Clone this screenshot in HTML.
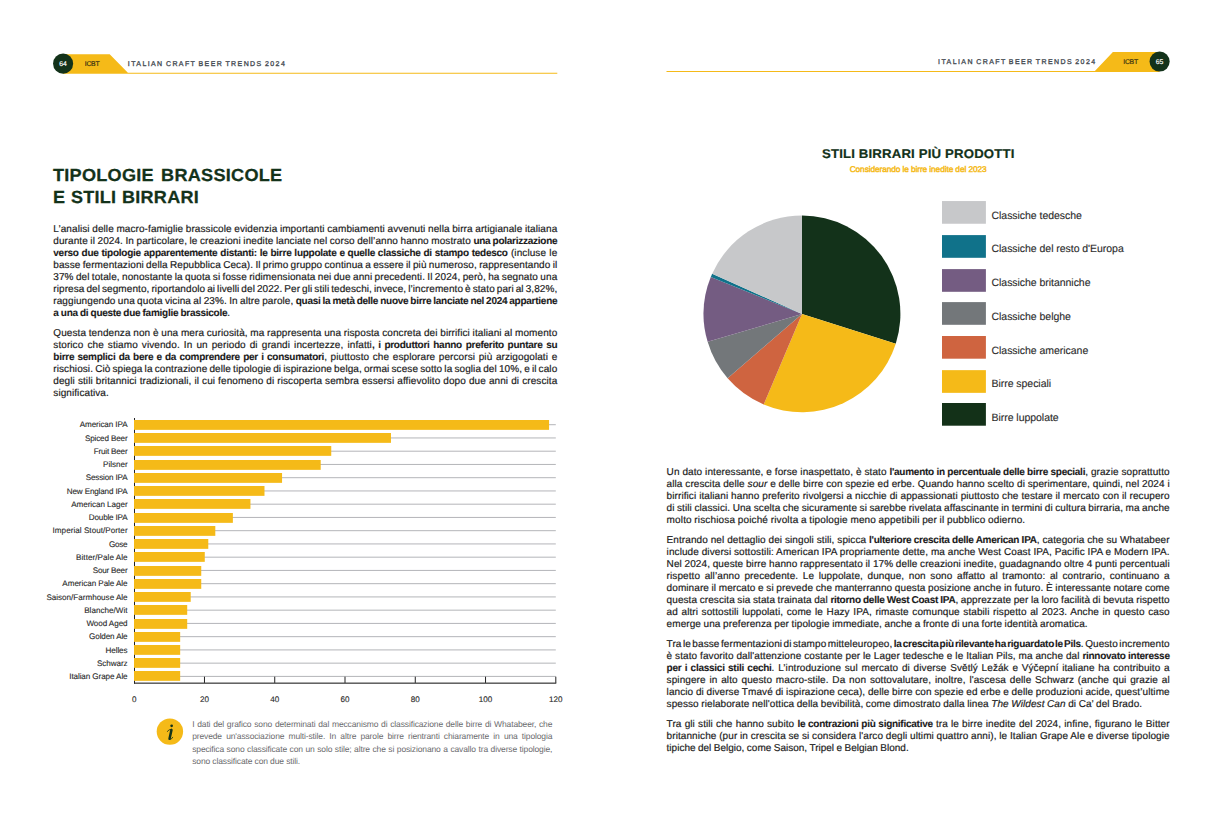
<!DOCTYPE html>
<html><head><meta charset="utf-8"><title>ICBT 2024</title>
<style>
html,body{margin:0;padding:0;background:#fff;}
body{width:1223px;height:827px;position:relative;overflow:hidden;font-family:"Liberation Sans",sans-serif;color:#1b1b1b;text-rendering:geometricPrecision;}
div{position:absolute;white-space:nowrap;}
span.t{display:inline-block;white-space:nowrap;transform-origin:0 50%;}
.l{font-size:10px;line-height:12px;height:12px;letter-spacing:calc(0.085px + var(--d,0px));-webkit-text-stroke:0.18px #1b1b1b;}
.l b{letter-spacing:calc(-0.26px + var(--d,0px));-webkit-text-stroke:0.1px #1b1b1b;}
.f{font-size:8.5px;line-height:12px;height:12px;color:#6b6b6e;letter-spacing:calc(-0.135px + var(--d,0px));}
.bl{font-size:8.1px;line-height:10px;height:10px;color:#2b2b2b;-webkit-text-stroke:0.12px #2b2b2b;}
.xl{width:30px;text-align:center;font-size:8.1px;line-height:10px;color:#2b2b2b;-webkit-text-stroke:0.12px #2b2b2b;}
.lg{left:991.5px;font-size:10.5px;line-height:12px;color:#2b2b2b;letter-spacing:-0.04px;-webkit-text-stroke:0.12px #2b2b2b;}
.sw{left:942px;width:43.8px;height:22.9px;}
.hd{font-size:7px;color:#474d54;line-height:8px;-webkit-text-stroke:0.32px #474d54;word-spacing:-1px;}
.ic{font-size:6.8px;letter-spacing:-0.25px;color:#3a3212;line-height:8px;-webkit-text-stroke:0.2px #3a3212;}
.pn{font-size:6.8px;color:#fff;line-height:8px;width:20px;text-align:center;-webkit-text-stroke:0.15px #fff;}
.h1{left:53.4px;font-weight:bold;font-size:17.5px;line-height:20px;color:#13321a;-webkit-text-stroke:0.25px #13321a;}
svg{position:absolute;left:0;top:0;}
</style></head><body>

<svg width="1223" height="827" viewBox="0 0 1223 827">
<path d="M63,54.2 L109.7,54.2 L127.9,72.8 L557.3,72.8 L557.3,73.8 L63,73.8 Z" fill="#f5ba18"/>
<circle cx="63.1" cy="63.65" r="10.05" fill="#13321a"/>
<path d="M1159.5,52.1 L1112.9,52.1 L1094.9,70.9 L666.5,70.9 L666.5,71.9 L1159.5,71.9 Z" fill="#f5ba18"/>
<circle cx="1159.6" cy="61.55" r="10.05" fill="#13321a"/>
<rect x="134.0" y="418" width="1" height="265.6" fill="#222"/>
<rect x="135.0" y="424.20" width="420.80" height="1" fill="#b4b5b9"/>
<rect x="135.0" y="437.45" width="420.80" height="1" fill="#b4b5b9"/>
<rect x="135.0" y="450.69" width="420.80" height="1" fill="#b4b5b9"/>
<rect x="135.0" y="463.94" width="420.80" height="1" fill="#b4b5b9"/>
<rect x="135.0" y="477.19" width="420.80" height="1" fill="#b4b5b9"/>
<rect x="135.0" y="490.44" width="420.80" height="1" fill="#b4b5b9"/>
<rect x="135.0" y="503.68" width="420.80" height="1" fill="#b4b5b9"/>
<rect x="135.0" y="516.93" width="420.80" height="1" fill="#b4b5b9"/>
<rect x="135.0" y="530.18" width="420.80" height="1" fill="#b4b5b9"/>
<rect x="135.0" y="543.43" width="420.80" height="1" fill="#b4b5b9"/>
<rect x="135.0" y="556.67" width="420.80" height="1" fill="#b4b5b9"/>
<rect x="135.0" y="569.92" width="420.80" height="1" fill="#b4b5b9"/>
<rect x="135.0" y="583.17" width="420.80" height="1" fill="#b4b5b9"/>
<rect x="135.0" y="596.42" width="420.80" height="1" fill="#b4b5b9"/>
<rect x="135.0" y="609.66" width="420.80" height="1" fill="#b4b5b9"/>
<rect x="135.0" y="622.91" width="420.80" height="1" fill="#b4b5b9"/>
<rect x="135.0" y="636.16" width="420.80" height="1" fill="#b4b5b9"/>
<rect x="135.0" y="649.41" width="420.80" height="1" fill="#b4b5b9"/>
<rect x="135.0" y="662.65" width="420.80" height="1" fill="#b4b5b9"/>
<rect x="135.0" y="675.90" width="420.80" height="1" fill="#b4b5b9"/>
<rect x="134.0" y="420" width="415.07" height="9.85" fill="#f5ba18"/>
<rect x="134.0" y="433" width="256.97" height="9.85" fill="#f5ba18"/>
<rect x="134.0" y="446" width="197.25" height="9.85" fill="#f5ba18"/>
<rect x="134.0" y="460" width="186.71" height="9.85" fill="#f5ba18"/>
<rect x="134.0" y="473" width="148.06" height="9.85" fill="#f5ba18"/>
<rect x="134.0" y="486" width="130.49" height="9.85" fill="#f5ba18"/>
<rect x="134.0" y="499" width="116.44" height="9.85" fill="#f5ba18"/>
<rect x="134.0" y="513" width="98.87" height="9.85" fill="#f5ba18"/>
<rect x="134.0" y="526" width="81.31" height="9.85" fill="#f5ba18"/>
<rect x="134.0" y="539" width="74.28" height="9.85" fill="#f5ba18"/>
<rect x="134.0" y="552" width="70.77" height="9.85" fill="#f5ba18"/>
<rect x="134.0" y="566" width="67.25" height="9.85" fill="#f5ba18"/>
<rect x="134.0" y="579" width="67.25" height="9.85" fill="#f5ba18"/>
<rect x="134.0" y="592" width="56.71" height="9.85" fill="#f5ba18"/>
<rect x="134.0" y="605" width="53.20" height="9.85" fill="#f5ba18"/>
<rect x="134.0" y="619" width="53.20" height="9.85" fill="#f5ba18"/>
<rect x="134.0" y="632" width="46.17" height="9.85" fill="#f5ba18"/>
<rect x="134.0" y="645" width="46.17" height="9.85" fill="#f5ba18"/>
<rect x="134.0" y="658" width="46.17" height="9.85" fill="#f5ba18"/>
<rect x="134.0" y="671" width="46.17" height="9.85" fill="#f5ba18"/>
<rect x="134.0" y="682.6" width="422.30" height="1.1" fill="#222"/>
<rect x="203.97" y="676.7" width="1" height="6.2" fill="#222"/>
<rect x="274.23" y="676.7" width="1" height="6.2" fill="#222"/>
<rect x="344.50" y="676.7" width="1" height="6.2" fill="#222"/>
<rect x="414.77" y="676.7" width="1" height="6.2" fill="#222"/>
<rect x="485.03" y="676.7" width="1" height="6.2" fill="#222"/>
<rect x="555.30" y="676.7" width="1" height="6.2" fill="#222"/>
<path d="M802.0,313.9 L802.00,215.50 A98.4,98.4 0 0 1 895.77,343.74 Z" fill="#13321a"/>
<path d="M802.0,313.9 L895.77,343.74 A98.4,98.4 0 0 1 763.71,404.54 Z" fill="#f5ba18"/>
<path d="M802.0,313.9 L763.71,404.54 A98.4,98.4 0 0 1 727.62,378.33 Z" fill="#cf6440"/>
<path d="M802.0,313.9 L727.62,378.33 A98.4,98.4 0 0 1 707.65,341.85 Z" fill="#73777a"/>
<path d="M802.0,313.9 L707.65,341.85 A98.4,98.4 0 0 1 710.77,277.04 Z" fill="#745c82"/>
<path d="M802.0,313.9 L710.77,277.04 A98.4,98.4 0 0 1 712.18,273.72 Z" fill="#10728a"/>
<path d="M802.0,313.9 L712.18,273.72 A98.4,98.4 0 0 1 802.00,215.50 Z" fill="#c7c8ca"/>
<rect x="942" y="201.05" width="43.9" height="22.7" fill="#c7c8ca"/>
<rect x="942" y="235.1" width="43.9" height="22.7" fill="#10728a"/>
<rect x="942" y="269.1" width="43.9" height="22.7" fill="#745c82"/>
<rect x="942" y="302.1" width="43.9" height="22.7" fill="#73777a"/>
<rect x="942" y="336.0" width="43.9" height="22.7" fill="#cf6440"/>
<rect x="942" y="370.15" width="43.9" height="22.7" fill="#f5ba18"/>
<rect x="942" y="403.0" width="43.9" height="22.7" fill="#133118"/>
<circle cx="169.9" cy="731.6" r="13.2" fill="#f5ba18"/>
<g fill="none" stroke="#13321a" stroke-linecap="round"><circle cx="171.65" cy="725.8" r="1.35" fill="#13321a" stroke="none"/><path d="M171.45,729.9 L169.55,738.7" stroke-width="2.5"/><path d="M167.2,731.5 Q168.8,729.3 171.3,729.2" stroke-width="0.8"/><path d="M169.3,739.5 Q171.6,739.9 172.8,737.3" stroke-width="0.8"/></g>
</svg>
<div class="pn" style="left:53.1px;top:61px;">64</div>
<div class="ic" style="left:84.8px;top:61px;">ICBT</div>
<div class="hd" style="left:127.8px;top:61px;letter-spacing:1.407px;"><span class="t" id="hdl">ITALIAN CRAFT BEER TRENDS 2024</span></div>
<div class="pn" style="left:1149.6px;top:59px;">65</div>
<div class="ic" style="left:1123.3px;top:59px;">ICBT</div>
<div class="hd" style="left:938.1px;top:59px;letter-spacing:1.407px;"><span class="t" id="hdr">ITALIAN CRAFT BEER TRENDS 2024</span></div>
<div class="h1" style="top:165px;letter-spacing:0.25px;word-spacing:1.8px;"><span class="t" id="h1a" style="transform:scaleX(1.0348);">TIPOLOGIE BRASSICOLE</span></div>
<div class="h1" style="top:187px;letter-spacing:0.25px;word-spacing:0.4px;"><span class="t" id="h1b" style="transform:scaleX(1.0308);">E STILI BIRRARI</span></div>
<div class="ptt" style="left:821.9px;top:147px;font-weight:bold;font-size:12.6px;line-height:14px;color:#13321a;letter-spacing:0.15px;-webkit-text-stroke:0.2px #13321a;"><span class="t" id="pt" style="transform:scaleX(1.0478);">STILI BIRRARI PIÙ PRODOTTI</span></div>
<div class="pst" style="left:849.7px;top:164px;font-size:8.3px;line-height:10px;color:#f5ba18;-webkit-text-stroke:0.45px #f5ba18;letter-spacing:-0.090px;"><span class="t" id="ps">Considerando le birre inedite del 2023</span></div>
<div class="l" style="left:53.3px;top:224px;--d:0.000px;word-spacing:-0.253px;"><span class="t" id="p0">L’analisi delle macro-famiglie brassicole evidenzia importanti cambiamenti avvenuti nella birra artigianale italiana</span></div>
<div class="l" style="left:53.3px;top:236px;--d:0.000px;word-spacing:-0.329px;"><span class="t" id="p1">durante il 2024. In particolare, le creazioni inedite lanciate nel corso dell’anno hanno mostrato <b>una polarizzazione</b></span></div>
<div class="l" style="left:53.3px;top:248px;--d:0.000px;word-spacing:0.404px;"><span class="t" id="p2"><b>verso due tipologie apparentemente distanti: le birre luppolate e quelle classiche di stampo tedesco</b> (incluse le</span></div>
<div class="l" style="left:53.3px;top:260px;--d:0.000px;word-spacing:-0.573px;"><span class="t" id="p3">basse fermentazioni della Repubblica Ceca). Il primo gruppo continua a essere il più numeroso, rappresentando il</span></div>
<div class="l" style="left:53.3px;top:272px;--d:0.000px;word-spacing:-0.521px;"><span class="t" id="p4">37% del totale, nonostante la quota si fosse ridimensionata nei due anni precedenti. Il 2024, però, ha segnato una</span></div>
<div class="l" style="left:53.3px;top:284px;--d:0.000px;word-spacing:-0.899px;"><span class="t" id="p5">ripresa del segmento, riportandolo ai livelli del 2022. Per gli stili tedeschi, invece, l’incremento è stato pari al 3,82%,</span></div>
<div class="l" style="left:53.3px;top:296px;--d:0.000px;word-spacing:-0.515px;"><span class="t" id="p6">raggiungendo una quota vicina al 23%. In altre parole, <b>quasi la metà delle nuove birre lanciate nel 2024 appartiene</b></span></div>
<div class="l" style="left:53.3px;top:308px;--d:-0.006px;word-spacing:-0.310px;"><span class="t" id="p7"><b>a una di queste due famiglie brassicole</b>.</span></div>
<div class="l" style="left:53.3px;top:328px;--d:0.000px;word-spacing:-0.154px;"><span class="t" id="p8">Questa tendenza non è una mera curiosità, ma rappresenta una risposta concreta dei birrifici italiani al momento</span></div>
<div class="l" style="left:53.3px;top:340px;--d:0.000px;word-spacing:1.188px;"><span class="t" id="p9">storico che stiamo vivendo. In un periodo di grandi incertezze, infatti<b>, i produttori hanno preferito puntare su</b></span></div>
<div class="l" style="left:53.3px;top:352px;--d:0.000px;word-spacing:0.742px;"><span class="t" id="p10"><b>birre semplici da bere e da comprendere per i consumatori</b>, piuttosto che esplorare percorsi più arzigogolati e</span></div>
<div class="l" style="left:53.3px;top:364px;--d:0.000px;word-spacing:-0.755px;"><span class="t" id="p11">rischiosi. Ciò spiega la contrazione delle tipologie di ispirazione belga, ormai scese sotto la soglia del 10%, e il calo</span></div>
<div class="l" style="left:53.3px;top:376px;--d:0.000px;word-spacing:0.169px;"><span class="t" id="p12">degli stili britannici tradizionali, il cui fenomeno di riscoperta sembra essersi affievolito dopo due anni di crescita</span></div>
<div class="l" style="left:53.3px;top:388px;--d:-0.006px;word-spacing:-0.310px;"><span class="t" id="p13">significativa.</span></div>
<div class="l" style="left:666.6px;top:467px;--d:0.000px;word-spacing:0.001px;"><span class="t" id="p14">Un dato interessante, e forse inaspettato, è stato <b>l'aumento in percentuale delle birre speciali</b>, grazie soprattutto</span></div>
<div class="l" style="left:666.6px;top:479px;--d:0.000px;word-spacing:-0.071px;"><span class="t" id="p15">alla crescita delle <i>sour</i> e delle birre con spezie ed erbe. Quando hanno scelto di sperimentare, quindi, nel 2024 i</span></div>
<div class="l" style="left:666.6px;top:491px;--d:0.000px;word-spacing:0.061px;"><span class="t" id="p16">birrifici italiani hanno preferito rivolgersi a nicchie di appassionati piuttosto che testare il mercato con il recupero</span></div>
<div class="l" style="left:666.6px;top:503px;--d:0.000px;word-spacing:-0.382px;"><span class="t" id="p17">di stili classici. Una scelta che sicuramente si sarebbe rivelata affascinante in termini di cultura birraria, ma anche</span></div>
<div class="l" style="left:666.6px;top:515px;--d:0.058px;word-spacing:-0.310px;"><span class="t" id="p18">molto rischiosa poiché rivolta a tipologie meno appetibili per il pubblico odierno.</span></div>
<div class="l" style="left:666.6px;top:535px;--d:0.000px;word-spacing:-0.028px;"><span class="t" id="p19">Entrando nel dettaglio dei singoli stili, spicca <b>l'ulteriore crescita delle American IPA</b>, categoria che su Whatabeer</span></div>
<div class="l" style="left:666.6px;top:547px;--d:0.000px;word-spacing:-0.040px;"><span class="t" id="p20">include diversi sottostili: American IPA propriamente dette, ma anche West Coast IPA, Pacific IPA e Modern IPA.</span></div>
<div class="l" style="left:666.6px;top:559px;--d:0.000px;word-spacing:-0.155px;"><span class="t" id="p21">Nel 2024, queste birre hanno rappresentato il 17% delle creazioni inedite, guadagnando oltre 4 punti percentuali</span></div>
<div class="l" style="left:666.6px;top:571px;--d:0.000px;word-spacing:1.737px;"><span class="t" id="p22">rispetto all’anno precedente. Le luppolate, dunque, non sono affatto al tramonto: al contrario, continuano a</span></div>
<div class="l" style="left:666.6px;top:583px;--d:0.000px;word-spacing:-0.265px;"><span class="t" id="p23">dominare il mercato e si prevede che manterranno questa posizione anche in futuro. È interessante notare come</span></div>
<div class="l" style="left:666.6px;top:595px;--d:0.000px;word-spacing:-0.309px;"><span class="t" id="p24">questa crescita sia stata trainata dal <b>ritorno delle West Coast IPA</b>, apprezzate per la loro facilità di bevuta rispetto</span></div>
<div class="l" style="left:666.6px;top:607px;--d:0.000px;word-spacing:0.729px;"><span class="t" id="p25">ad altri sottostili luppolati, come le Hazy IPA, rimaste comunque stabili rispetto al 2023. Anche in questo caso</span></div>
<div class="l" style="left:666.6px;top:619px;--d:0.002px;word-spacing:-0.310px;"><span class="t" id="p26">emerge una preferenza per tipologie immediate, anche a fronte di una forte identità aromatica.</span></div>
<div class="l" style="left:666.6px;top:639px;--d:0.000px;word-spacing:-1.393px;"><span class="t" id="p27">Tra le basse fermentazioni di stampo mitteleuropeo, <b>la crescita più rilevante ha riguardato le Pils</b>. Questo incremento</span></div>
<div class="l" style="left:666.6px;top:651px;--d:0.000px;word-spacing:-0.006px;"><span class="t" id="p28">è stato favorito dall'attenzione costante per le Lager tedesche e le Italian Pils, ma anche dal <b>rinnovato interesse</b></span></div>
<div class="l" style="left:666.6px;top:663px;--d:0.000px;word-spacing:0.842px;"><span class="t" id="p29"><b>per i classici stili cechi</b>. L’introduzione sul mercato di diverse Světlý Ležák e Výčepní italiane ha contribuito a</span></div>
<div class="l" style="left:666.6px;top:675px;--d:0.000px;word-spacing:0.952px;"><span class="t" id="p30">spingere in alto questo macro-stile. Da non sottovalutare, inoltre, l'ascesa delle Schwarz (anche qui grazie al</span></div>
<div class="l" style="left:666.6px;top:687px;--d:0.000px;word-spacing:-0.202px;"><span class="t" id="p31">lancio di diverse Tmavé di ispirazione ceca), delle birre con spezie ed erbe e delle produzioni acide, quest’ultime</span></div>
<div class="l" style="left:666.6px;top:699px;--d:-0.008px;word-spacing:-0.310px;"><span class="t" id="p32">spesso rielaborate nell'ottica della bevibilità, come dimostrato dalla linea <i>The Wildest Can</i> di Ca’ del Brado.</span></div>
<div class="l" style="left:666.6px;top:719px;--d:0.000px;word-spacing:0.297px;"><span class="t" id="p33">Tra gli stili che hanno subito <b>le contrazioni più significative</b> tra le birre inedite del 2024, infine, figurano le Bitter</span></div>
<div class="l" style="left:666.6px;top:731px;--d:0.000px;word-spacing:-0.145px;"><span class="t" id="p34">britanniche (pur in crescita se si considera l'arco degli ultimi quattro anni), le Italian Grape Ale e diverse tipologie</span></div>
<div class="l" style="left:666.6px;top:743px;--d:-0.085px;word-spacing:-0.310px;"><span class="t" id="p35">tipiche del Belgio, come Saison, Tripel e Belgian Blond.</span></div>
<div class="f" style="left:192.2px;top:718px;--d:0.000px;word-spacing:0.555px;"><span class="t" id="f0">I dati del grafico sono determinati dal meccanismo di classificazione delle birre di Whatabeer, che</span></div>
<div class="f" style="left:192.2px;top:730px;--d:0.000px;word-spacing:1.964px;"><span class="t" id="f1">prevede un'associazione multi-stile. In altre parole birre rientranti chiaramente in una tipologia</span></div>
<div class="f" style="left:192.2px;top:743px;--d:0.000px;word-spacing:0.342px;"><span class="t" id="f2">specifica sono classificate con un solo stile; altre che si posizionano a cavallo tra diverse tipologie,</span></div>
<div class="f" style="left:192.2px;top:755px;--d:0.005px;word-spacing:0.000px;"><span class="t" id="f3">sono classificate con due stili.</span></div>
<div class="bl" style="left:79.77px;top:420px;letter-spacing:-0.096px;"><span class="t" id="b0">American IPA</span></div>
<div class="bl" style="left:84.92px;top:434px;letter-spacing:-0.141px;"><span class="t" id="b1">Spiced Beer</span></div>
<div class="bl" style="left:93.75px;top:447px;letter-spacing:-0.189px;"><span class="t" id="b2">Fruit Beer</span></div>
<div class="bl" style="left:103.07px;top:460px;letter-spacing:-0.037px;"><span class="t" id="b3">Pilsner</span></div>
<div class="bl" style="left:85.66px;top:473px;letter-spacing:-0.156px;"><span class="t" id="b4">Session IPA</span></div>
<div class="bl" style="left:66.77px;top:487px;letter-spacing:-0.144px;"><span class="t" id="b5">New England IPA</span></div>
<div class="bl" style="left:71.19px;top:500px;letter-spacing:-0.056px;"><span class="t" id="b6">American Lager</span></div>
<div class="bl" style="left:88.85px;top:513px;letter-spacing:-0.177px;"><span class="t" id="b7">Double IPA</span></div>
<div class="bl" style="left:52.54px;top:526px;letter-spacing:0.041px;"><span class="t" id="b8">Imperial Stout/Porter</span></div>
<div class="bl" style="left:108.96px;top:540px;letter-spacing:-0.240px;"><span class="t" id="b9">Gose</span></div>
<div class="bl" style="left:76.09px;top:553px;letter-spacing:0.048px;"><span class="t" id="b10">Bitter/Pale Ale</span></div>
<div class="bl" style="left:92.77px;top:566px;letter-spacing:-0.203px;"><span class="t" id="b11">Sour Beer</span></div>
<div class="bl" style="left:62.36px;top:579px;letter-spacing:-0.056px;"><span class="t" id="b12">American Pale Ale</span></div>
<div class="bl" style="left:46.41px;top:593px;letter-spacing:-0.013px;"><span class="t" id="b13">Saison/Farmhouse Ale</span></div>
<div class="bl" style="left:84.19px;top:606px;letter-spacing:0.022px;"><span class="t" id="b14">Blanche/Wit</span></div>
<div class="bl" style="left:86.39px;top:619px;letter-spacing:-0.062px;"><span class="t" id="b15">Wood Aged</span></div>
<div class="bl" style="left:89.09px;top:632px;letter-spacing:-0.122px;"><span class="t" id="b16">Golden Ale</span></div>
<div class="bl" style="left:105.52px;top:646px;letter-spacing:-0.084px;"><span class="t" id="b17">Helles</span></div>
<div class="bl" style="left:96.94px;top:659px;letter-spacing:-0.064px;"><span class="t" id="b18">Schwarz</span></div>
<div class="bl" style="left:69.22px;top:672px;letter-spacing:-0.091px;"><span class="t" id="b19">Italian Grape Ale</span></div>
<div class="xl" style="left:119.20px;top:695px;">0</div>
<div class="xl" style="left:189.47px;top:695px;">20</div>
<div class="xl" style="left:259.73px;top:695px;">40</div>
<div class="xl" style="left:330.00px;top:695px;">60</div>
<div class="xl" style="left:400.27px;top:695px;">80</div>
<div class="xl" style="left:470.53px;top:695px;">100</div>
<div class="xl" style="left:540.80px;top:695px;">120</div>
<div class="lg" style="top:210px;"><span class="t" id="g0">Classiche tedesche</span></div>
<div class="lg" style="top:243px;"><span class="t" id="g1">Classiche del resto d'Europa</span></div>
<div class="lg" style="top:277px;"><span class="t" id="g2">Classiche britanniche</span></div>
<div class="lg" style="top:311px;"><span class="t" id="g3">Classiche belghe</span></div>
<div class="lg" style="top:345px;"><span class="t" id="g4">Classiche americane</span></div>
<div class="lg" style="top:378px;"><span class="t" id="g5">Birre speciali</span></div>
<div class="lg" style="top:412px;"><span class="t" id="g6">Birre luppolate</span></div>
</body></html>
